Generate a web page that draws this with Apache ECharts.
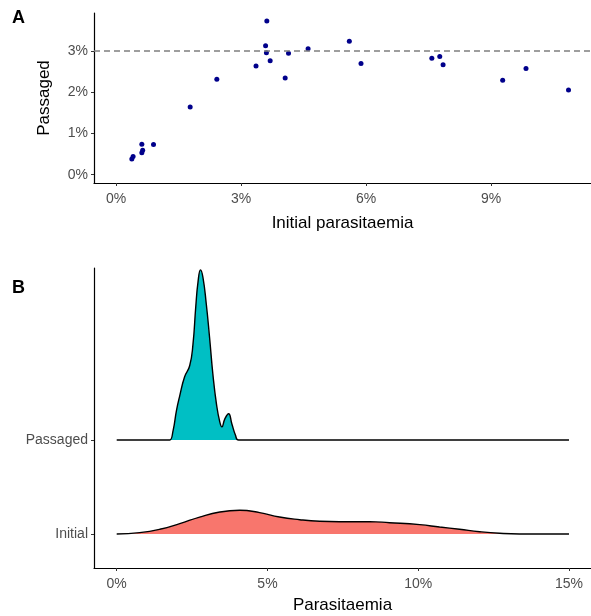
<!DOCTYPE html>
<html>
<head>
<meta charset="utf-8">
<script src="https://cdn.jsdelivr.net/npm/echarts@6/dist/echarts.min.js"></script>
<style>
  html, body { margin: 0; padding: 0; background: #fff; }
  #chart { width: 591px; height: 616px; }
</style>
</head>
<body>
<div id="chart"></div>
<script>
// panel A: initial vs passaged parasitaemia (%)
const initialPct = [3.62, 3.59, 3.61, 3.70, 3.36, 4.14, 4.06, 4.61, 2.42, 1.78, 0.90, 0.62, 0.64, 0.62, 0.41, 0.38,
  5.60, 5.88, 7.58, 7.77, 7.85, 9.28, 9.84, 10.86];
const passagedPct = [3.72, 3.12, 2.95, 2.76, 2.63, 2.94, 2.34, 3.05, 2.31, 1.64, 0.73, 0.74, 0.59, 0.53, 0.44, 0.38,
  3.23, 2.69, 2.82, 2.86, 2.66, 2.29, 2.57, 2.05];
const refLine = 3;
const ticksA_x = [0, 3, 6, 9];
const ticksA_y = [0, 1, 2, 3];

// panel B: density ridges (height in row units)
const ridgeRows = ['Initial', 'Passaged'];
const ticksB_x = [0, 5, 10, 15];
const passX = [0, 1.65, 1.76, 1.87, 1.98, 2.09, 2.25, 2.42, 2.53, 2.62, 2.70, 2.78, 2.86, 2.97, 3.08, 3.19, 3.31, 3.42, 3.49, 3.58, 3.71, 3.82, 3.94, 4.04, 15];
const passH = [0, 0, 0, 0.10, 0.31, 0.47, 0.67, 0.79, 1.02, 1.41, 1.69, 1.81, 1.73, 1.45, 1.09, 0.70, 0.38, 0.19, 0.14, 0.22, 0.28, 0.17, 0.05, 0, 0];
const initX = [0, 0.76, 1.43, 2.09, 2.75, 3.42, 4.08, 4.74, 5.40, 6.07, 6.73, 7.39, 8.39, 9.05, 10.05, 10.71, 11.37, 12.04, 12.70, 13.36, 15];
const initH = [0, 0.014, 0.05, 0.11, 0.18, 0.234, 0.252, 0.227, 0.18, 0.152, 0.135, 0.13, 0.131, 0.12, 0.099, 0.074, 0.05, 0.024, 0.007, 0, 0];

const FONT = 'Liberation Sans';
const GREY = '#4d4d4d';

const chart = echarts.init(document.getElementById('chart'));

function xAx(idx, min, max, ticks, name, gap) {
  return {
    type: 'value', gridIndex: idx, min: min, max: max,
    name: name, nameLocation: 'middle', nameGap: gap,
    nameTextStyle: { color: '#000', fontSize: 17, fontFamily: FONT },
    axisLine: { show: true, onZero: false, lineStyle: { color: '#000', width: 1.2 } },
    axisTick: { show: true, length: 3, customValues: ticks, lineStyle: { color: '#333' } },
    axisLabel: { customValues: ticks, formatter: v => v + '%', color: GREY, fontSize: 14, fontFamily: FONT, margin: 9 },
    splitLine: { show: false }
  };
}

function ridge(xs, hs, base, fill) {
  return {
    type: 'line', xAxisIndex: 1, yAxisIndex: 1,
    data: xs.map((x, i) => [x, base + hs[i]]),
    smooth: 0.5, showSymbol: false, silent: true,
    lineStyle: { color: '#000', width: 1.4 },
    areaStyle: { color: fill, opacity: 1, origin: base }
  };
}

chart.setOption({
  animation: false,
  textStyle: { fontFamily: FONT },
  graphic: [
    { type: 'text', left: 12, top: 9, style: { text: 'A', font: 'bold 18px ' + FONT, fill: '#000' } },
    { type: 'text', left: 12, top: 279, style: { text: 'B', font: 'bold 18px ' + FONT, fill: '#000' } }
  ],
  grid: [
    { left: 94, top: 13, width: 497, height: 170, outerBoundsMode: 'none' },
    { left: 94, top: 268, width: 497, height: 300, outerBoundsMode: 'none' }
  ],
  xAxis: [
    xAx(0, -0.528, 11.40, ticksA_x, 'Initial parasitaemia', 32),
    xAx(1, -0.753, 15.73, ticksB_x, 'Parasitaemia', 29)
  ],
  yAxis: [
    {
      type: 'value', gridIndex: 0, min: -0.2, max: 3.915,
      name: 'Passaged', nameLocation: 'middle', nameGap: 41,
      nameTextStyle: { color: '#000', fontSize: 17, fontFamily: FONT },
      axisLine: { show: true, onZero: false, lineStyle: { color: '#000', width: 1.2 } },
      axisTick: { show: true, length: 3, customValues: ticksA_y, lineStyle: { color: '#333' } },
      axisLabel: { customValues: ticksA_y, formatter: v => v + '%', color: GREY, fontSize: 14, fontFamily: FONT, margin: 6 },
      splitLine: { show: false }
    },
    {
      type: 'value', gridIndex: 1, min: -0.362, max: 2.83,
      axisLine: { show: true, onZero: false, lineStyle: { color: '#000', width: 1.2 } },
      axisTick: { show: true, length: 3, customValues: [0, 1], lineStyle: { color: '#333' } },
      axisLabel: { customValues: [0, 1], formatter: v => ridgeRows[v], color: GREY, fontSize: 14, fontFamily: FONT, margin: 6 },
      splitLine: { show: false }
    }
  ],
  series: [
    {
      type: 'scatter', xAxisIndex: 0, yAxisIndex: 0,
      data: initialPct.map((x, i) => [x, passagedPct[i]]),
      symbolSize: 5, itemStyle: { color: '#00008b', opacity: 1 }, silent: true,
      markLine: {
        silent: true, symbol: 'none', label: { show: false },
        lineStyle: { color: '#7f7f7f', type: [6, 4], width: 1.5 },
        data: [{ yAxis: refLine }]
      }
    },
    ridge(passX, passH, 1, '#00bfc4'),
    ridge(initX, initH, 0, '#f8766d')
  ]
});
</script>
</body>
</html>
